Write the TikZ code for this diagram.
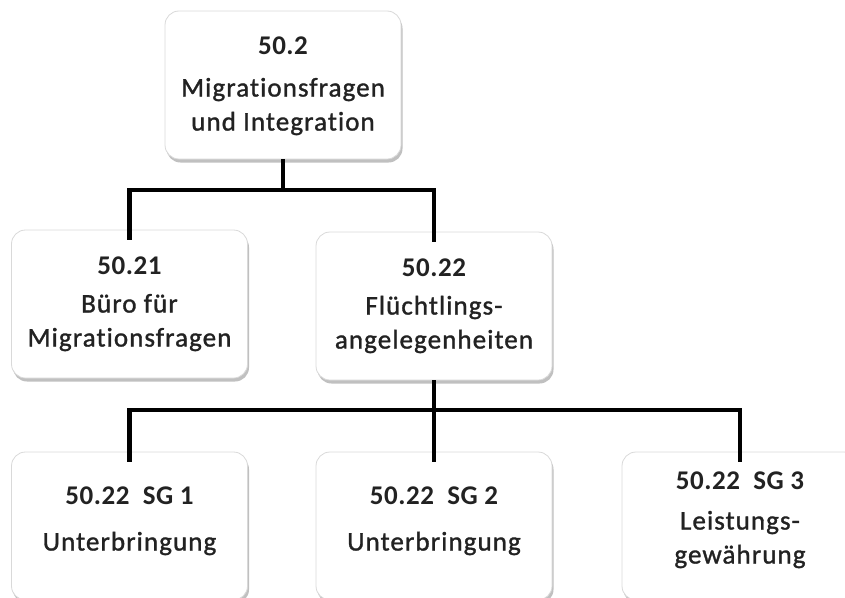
\documentclass[tikz,border=0pt]{standalone}
\usepackage{fontspec}
\setmainfont{Carlito}[Ligatures=NoCommon, LetterSpace=4]
\newfontfamily\bodyfont{Carlito}[Ligatures=NoCommon, LetterSpace=4, FakeBold=1.2]
\newfontfamily\numfont{Carlito Bold}[Ligatures=NoCommon, LetterSpace=2]
\usetikzlibrary{shadows}
\definecolor{txtc}{HTML}{222222}
\begin{document}
\begin{tikzpicture}[x=1pt,y=-1pt,
  orgbox/.style={rectangle, rounded corners=14pt, draw=black!15, line width=0.8pt, fill=white,
     minimum width=236pt, minimum height=148pt, inner sep=0pt,
     drop shadow={shadow xshift=1.5pt, shadow yshift=-3.5pt, opacity=0.45, fill=black!55}},
  boxtext/.style={align=center, text=txtc, font=\bodyfont\fontsize{27}{34}\selectfont, inner sep=0pt},
  conn/.style={line width=4.5pt, black}]
\useasboundingbox (0,0) rectangle (845,597);
% boxes
\node[orgbox] (top) at (283,85) {};
\node[orgbox] (b21) at (129.5,304) {};
\node[orgbox] (b22) at (434,306) {};
\node[orgbox] (s1) at (129.5,526) {};
\node[orgbox] (s2) at (434,526) {};
\node[orgbox] (s3) at (740,526) {};
% texts
\node[boxtext] (ttop) at (283,86) {{\numfont 50.2}\\[8pt]Migrationsfragen\\und Integration};
\node[boxtext] (t21) at (129.5,304) {{\numfont 50.21}\\[4pt]Büro für\\Migrationsfragen};
\node[boxtext] (t22) at (434,306) {{\numfont 50.22}\\[4pt]Flüchtlings-\\angelegenheiten};
\node[boxtext] (ts1) at (129.5,521) {{\numfont 50.22\ \ SG 1}\\[12pt]Unterbringung};
\node[boxtext] (ts2) at (434,521) {{\numfont 50.22\ \ SG 2}\\[12pt]Unterbringung};
\node[boxtext] (ts3) at (740,520) {{\numfont 50.22\ \ SG 3}\\[6pt]Leistungs-\\gewährung};
% connectors
\coordinate (j1) at (283,190);
\coordinate (j2) at (434,410);
\draw[conn] (top.south) -- (j1);
\draw[conn] (j1) -| ([yshift=-10pt]b21.north);
\draw[conn] (j1) -| ([yshift=-10pt]b22.north);
\draw[conn] (b22.south) -- (j2);
\draw[conn] (j2) -| ([yshift=-10pt]s1.north);
\draw[conn] (j2) -- ([yshift=-10pt]s2.north);
\draw[conn] (j2) -| ([yshift=-10pt]s3.north);
\end{tikzpicture}
\end{document}
